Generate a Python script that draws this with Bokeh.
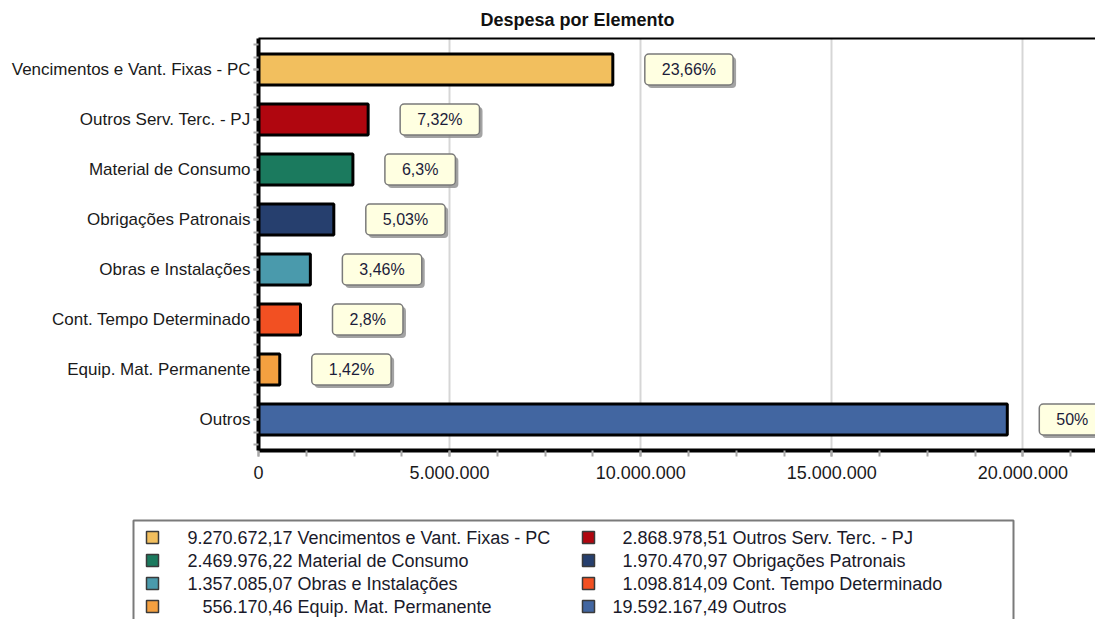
from bokeh.plotting import figure
from bokeh.models import (ColumnDataSource, Range1d, LinearAxis,
                          CustomJSTickFormatter, SingleIntervalTicker, FixedTicker)
from bokeh.layouts import column
from bokeh.embed import file_html
from bokeh.resources import INLINE
from bokeh.core.properties import value

# ---------------- data ----------------
chart_title = "Despesa por Elemento"
categories = ["Vencimentos e Vant. Fixas - PC", "Outros Serv. Terc. - PJ",
              "Material de Consumo", "Obrigações Patronais", "Obras e Instalações",
              "Cont. Tempo Determinado", "Equip. Mat. Permanente", "Outros"]
values = [9270672.17, 2868978.51, 2469976.22, 1970470.97, 1357085.07,
          1098814.09, 556170.46, 19592167.49]
pct_labels = ["23,66%", "7,32%", "6,3%", "5,03%", "3,46%", "2,8%", "1,42%", "50%"]
colors = ["#F2BF5E", "#B0060F", "#1B7A5E", "#263F6E", "#4A9AAC", "#F25022",
          "#F4A040", "#4266A1"]

FONT = "Liberation Sans"
W = 1095
N = len(categories)
half = 0.12  # padding (in category units) above and below the bars


def br(v):
    s = f"{v:,.2f}"
    return s.replace(",", "X").replace(".", ",").replace("X", ".")


# category slot positions (first category on top)
ypos = [N - 0.5 - i for i in range(N)]
src = ColumnDataSource(dict(y=ypos, cat=categories, val=values, pct=pct_labels, color=colors))

# ---------------- main chart ----------------
p = figure(width=W, height=488, output_backend="svg", toolbar_location=None,
           y_range=Range1d(-half, N + half), x_range=Range1d(0, 21.9e6),
           min_border_left=258, min_border_right=0, min_border_top=38,
           min_border_bottom=38, title=chart_title)
p.frame_align = False
p.title.align = "left"
p.title.offset = 222
p.title.vertical_align = "top"
p.title.text_font = FONT
p.title.text_font_size = "18px"
p.title.text_font_style = "bold"
p.title.text_color = "#111111"
p.title.standoff = 14
p.outline_line_color = None

ticker = SingleIntervalTicker(interval=5e6, num_minor_ticks=4)
xa = p.xaxis[0]
xa.ticker = ticker
xa.formatter = CustomJSTickFormatter(
    code="return Math.round(tick).toString().replace(/\\B(?=(\\d{3})+(?!\\d))/g, '.');")
xa.axis_line_width = 4
xa.axis_line_color = "black"
xa.major_tick_out = 6
xa.major_tick_in = 0
xa.major_tick_line_width = 2
xa.major_tick_line_color = "#A8A8A8"
xa.minor_tick_out = 6
xa.minor_tick_in = 0
xa.minor_tick_line_width = 2
xa.minor_tick_line_color = "#A8A8A8"
xa.major_label_text_font = FONT
xa.major_label_text_font_size = "18px"
xa.major_label_text_color = "#1a1a1a"
xa.major_label_standoff = 9

ya = p.yaxis[0]
ya.ticker = FixedTicker(ticks=ypos, minor_ticks=[k / 4 for k in range(4 * N + 1)])
ya.major_label_overrides = {y: c for y, c in zip(ypos, categories)}
ya.axis_line_width = 4
ya.axis_line_color = "black"
ya.major_tick_out = 5
ya.major_tick_in = 0
ya.major_tick_line_width = 2
ya.major_tick_line_color = "#A8A8A8"
ya.minor_tick_out = 5
ya.minor_tick_in = 0
ya.minor_tick_line_width = 2
ya.minor_tick_line_color = "#A8A8A8"
ya.major_label_text_font = FONT
ya.major_label_text_font_size = "17px"
ya.major_label_text_color = "#1a1a1a"
ya.major_label_standoff = 3

top_axis = LinearAxis(ticker=FixedTicker(ticks=[]), axis_line_width=2,
                      axis_line_color="black", major_label_text_font_size="0px",
                      major_tick_out=0, minor_tick_out=0, major_label_standoff=0)
p.add_layout(top_axis, "above")

p.xgrid.ticker = ticker
p.xgrid.grid_line_color = "#D6D6D6"
p.xgrid.grid_line_width = 2
p.ygrid.grid_line_color = None

p.hbar(y="y", left=0, right="val", height=0.62, fill_color="color",
       line_color="black", line_width=3, source=src)

# label shadows
p.text(x="val", y="y", text="pct", x_offset=35, y_offset=3, text_align="left",
       text_baseline="middle", text_font=value(FONT), text_font_size="16px",
       text_alpha=0, background_fill_color="#8C8C8C", background_fill_alpha=0.8,
       padding=(17, 7), border_radius=4, source=src)
# labels
p.text(x="val", y="y", text="pct", x_offset=32, text_align="left",
       text_baseline="middle", text_font=value(FONT), text_font_size="16px",
       text_color="#1c1c3a", background_fill_color="#FFFFE1",
       border_line_color="#7A7A7A", border_line_width=1.5,
       padding=(17, 7), border_radius=4, source=src)

# ---------------- legend ----------------
LH = 131
lg = figure(width=W, height=LH, output_backend="svg", toolbar_location=None,
            x_range=Range1d(0, W), y_range=Range1d(LH, 0),
            x_axis_type=None, y_axis_type=None, min_border=0)
lg.frame_align = False
lg.outline_line_color = None
lg.grid.visible = False

lg.quad(left=133, right=1013, top=32, bottom=170, fill_color="white",
        line_color="#7A7A7A", line_width=2)

mx = [152 if i % 2 == 0 else 588 for i in range(N)]
numx = [292 if i % 2 == 0 else 727 for i in range(N)]
namex = [297 if i % 2 == 0 else 732 for i in range(N)]
ry = [49 + 23 * (i // 2) for i in range(N)]
lsrc = ColumnDataSource(dict(mx=mx, numx=numx, namex=namex, ry=ry, color=colors,
                             num=[br(v) for v in values], name=categories))
lg.scatter(x="mx", y="ry", marker="square", size=12, fill_color="color",
           line_color="#3a3a3a", line_width=1.5, source=lsrc)
lg.text(x="numx", y="ry", text="num", text_align="right", text_baseline="middle",
        text_font=value(FONT), text_font_size="18px", text_color="#1a1a2a", source=lsrc)
lg.text(x="namex", y="ry", text="name", text_align="left", text_baseline="middle",
        text_font=value(FONT), text_font_size="18px", text_color="#1a1a2a", source=lsrc)

layout = column(p, lg)
open("out.html", "w").write(file_html(layout, INLINE))
